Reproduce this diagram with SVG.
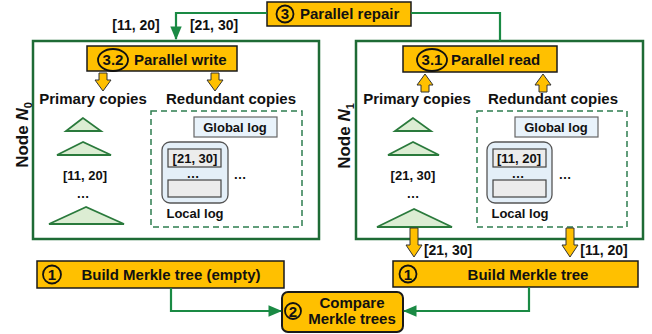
<svg xmlns="http://www.w3.org/2000/svg" width="652" height="334" viewBox="0 0 652 334">
<defs>
<style>
text{font-family:"Liberation Sans",Arial,sans-serif;font-weight:bold;fill:#111;}
.t15{font-size:15px;}
.t14{font-size:14px;}
.t13{font-size:13px;}
.ybox{fill:#FFC000;stroke:#1a1a1a;stroke-width:1.5;}
.circ{fill:none;stroke:#111;stroke-width:1.8;}
.node{fill:#fff;stroke:#1e6b35;stroke-width:2.5;}
.dash{fill:none;stroke:#2e7d4f;stroke-width:1.5;stroke-dasharray:6,4;}
.tri{fill:#dcedd3;stroke:#2a7a3c;stroke-width:1.8;}
.glog{fill:#e9f3fb;stroke:#666;stroke-width:1.2;}
.llog{fill:#e4eff8;stroke:#555;stroke-width:1.3;}
.inner{fill:#ececec;stroke:#444;stroke-width:1.2;}
.conn{fill:none;stroke:#1a8a44;stroke-width:2.2;}
.barrow{fill:#FFC000;stroke:#333;stroke-width:1;}
</style>
<marker id="ah" viewBox="0 0 12 10" refX="11" refY="5" markerWidth="6.2" markerHeight="5.5" orient="auto" markerUnits="strokeWidth">
<path d="M0,0 L12,5 L0,10 z" fill="#1a8a44"/>
</marker>
</defs>

<g id="node0">
<rect class="node" x="33" y="41" width="286" height="198"/>
<text transform="translate(28,135) rotate(-90)" text-anchor="middle" style="font-size:17px">Node <tspan font-style="italic">N</tspan><tspan style="font-size:11px" dy="4">0</tspan></text>
<text class="t15" x="93" y="104" text-anchor="middle">Primary copies</text>
<text class="t15" x="231" y="104" text-anchor="middle">Redundant copies</text>
<polygon class="tri" points="83,118 66,131 101,131"/>
<polygon class="tri" points="83,142 57,155 111,155"/>
<text class="t13" x="85" y="180" text-anchor="middle">[11, 20]</text>
<text class="t13" x="83" y="198" text-anchor="middle">…</text>
<polygon class="tri" points="86,207 49,224 124,224"/>
<rect class="dash" x="151" y="111" width="151" height="116"/>
<rect class="glog" x="194" y="117" width="83" height="20"/>
<text class="t13" x="235" y="132" text-anchor="middle">Global log</text>
<rect class="llog" x="162" y="142" width="66" height="61" rx="8"/>
<rect class="inner" x="168" y="149" width="53" height="18"/>
<text class="t13" x="195" y="163" text-anchor="middle">[21, 30]</text>
<text class="t13" x="193" y="178" text-anchor="middle">…</text>
<rect class="inner" x="168" y="180" width="53" height="17"/>
<text class="t13" x="240" y="179" text-anchor="middle">…</text>
<text class="t13" x="195" y="218" text-anchor="middle">Local log</text>
</g>

<g id="node1">
<rect class="node" x="356" y="41" width="287" height="198"/>
<text transform="translate(350,136) rotate(-90)" text-anchor="middle" style="font-size:17px">Node <tspan font-style="italic">N</tspan><tspan style="font-size:11px" dy="4">1</tspan></text>
<text class="t15" x="417" y="104" text-anchor="middle">Primary copies</text>
<text class="t15" x="553" y="104" text-anchor="middle">Redundant copies</text>
<polygon class="tri" points="413,118 395,131 431,131"/>
<polygon class="tri" points="413,142 388,155 439,155"/>
<text class="t13" x="413" y="180" text-anchor="middle">[21, 30]</text>
<text class="t13" x="413" y="198" text-anchor="middle">…</text>
<polygon class="tri" points="414,209 377,227 452,227"/>
<rect class="dash" x="477" y="111" width="150" height="116"/>
<rect class="glog" x="515" y="117" width="83" height="20"/>
<text class="t13" x="556" y="132" text-anchor="middle">Global log</text>
<rect class="llog" x="487" y="142" width="65" height="61" rx="8"/>
<rect class="inner" x="493" y="149" width="53" height="18"/>
<text class="t13" x="519" y="163" text-anchor="middle">[11, 20]</text>
<text class="t13" x="518" y="178" text-anchor="middle">…</text>
<rect class="inner" x="493" y="180" width="53" height="17"/>
<text class="t13" x="565" y="179" text-anchor="middle">…</text>
<text class="t13" x="520" y="218" text-anchor="middle">Local log</text>
</g>

<g id="repair">
<rect class="ybox" x="267" y="2" width="144" height="24"/>
<circle class="circ" cx="285" cy="14" r="8.5"/>
<text class="t15" x="285" y="19" text-anchor="middle">3</text>
<text class="t15" x="300" y="19">Parallel repair</text>
</g>

<g id="pwrite">
<rect class="ybox" x="87" y="46" width="150" height="25"/>
<ellipse class="circ" cx="113" cy="60" rx="15" ry="11"/>
<text class="t15" x="113" y="65" text-anchor="middle">3.2</text>
<text class="t15" x="134" y="65">Parallel write</text>
</g>

<g id="pread">
<rect class="ybox" x="403" y="46" width="154" height="26"/>
<ellipse class="circ" cx="432" cy="60" rx="15" ry="11"/>
<text class="t15" x="432" y="65" text-anchor="middle">3.1</text>
<text class="t15" x="451" y="65">Parallel read</text>
</g>

<g id="build0">
<rect class="ybox" x="37" y="261" width="247" height="27"/>
<circle class="circ" cx="52" cy="274.5" r="9"/>
<text class="t15" x="52" y="280" text-anchor="middle">1</text>
<text class="t15" x="171" y="280" text-anchor="middle">Build Merkle tree (empty)</text>
</g>

<g id="build1">
<rect class="ybox" x="393" y="261" width="245" height="26"/>
<circle class="circ" cx="408" cy="274" r="8.5"/>
<text class="t15" x="408" y="279.5" text-anchor="middle">1</text>
<text class="t15" x="528" y="279.5" text-anchor="middle">Build Merkle tree</text>
</g>

<g id="compare">
<rect class="ybox" x="282" y="292" width="121" height="40" rx="6" style="stroke-width:2"/>
<circle class="circ" cx="293" cy="311" r="8"/>
<text class="t15" x="293" y="316.5" text-anchor="middle">2</text>
<text class="t15" x="352" y="308" text-anchor="middle">Compare</text>
<text class="t15" x="352" y="324" text-anchor="middle">Merkle trees</text>
</g>

<g id="connectors">
<polyline class="conn" points="267,13 176,13 176,39" marker-end="url(#ah)"/>
<polyline class="conn" points="411,13 500,13 500,41"/>
<polyline class="conn" points="171,288 171,311 281,311" marker-end="url(#ah)"/>
<polyline class="conn" points="529,287 529,311 404,311" marker-end="url(#ah)"/>
<text class="t14" x="136" y="30" text-anchor="middle">[11, 20]</text>
<text class="t14" x="214" y="30" text-anchor="middle">[21, 30]</text>
<path class="barrow" d="M99,73 h8 v7 h4 l-8,11 l-8,-11 h4 z"/>
<path class="barrow" d="M211,73 h8 v7 h4 l-8,11 l-8,-11 h4 z"/>
<path class="barrow" d="M421,92 h8 v-7 h4 l-8,-11 l-8,11 h4 z"/>
<path class="barrow" d="M539,92 h8 v-7 h4 l-8,-11 l-8,11 h4 z"/>
<path class="barrow" d="M410,228 h8 v17 h4 l-8,12 l-8,-12 h4 z"/>
<path class="barrow" d="M566,228 h8 v17 h4 l-8,12 l-8,-12 h4 z"/>
<text class="t14" x="448" y="255" text-anchor="middle">[21, 30]</text>
<text class="t14" x="604" y="255" text-anchor="middle">[11, 20]</text>
</g>
</svg>
